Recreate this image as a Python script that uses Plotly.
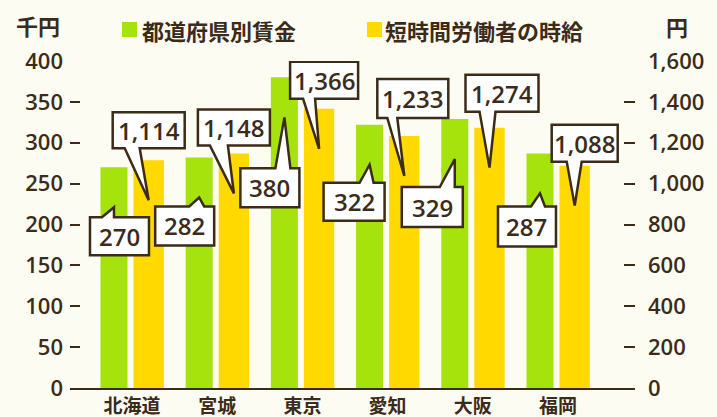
import plotly.graph_objects as go

# ---------------- data ----------------
prefectures = ["北海道", "宮城", "東京", "愛知", "大阪", "福岡"]
wages_thousand_yen = [270, 282, 380, 322, 329, 287]       # 都道府県別賃金 (千円)
hourly_yen = [1114, 1148, 1366, 1233, 1274, 1088]         # 短時間労働者の時給 (円)
series_names = ["都道府県別賃金", "短時間労働者の時給"]
left_ticks = [0, 50, 100, 150, 200, 250, 300, 350, 400]
right_ticks = [0, 200, 400, 600, 800, 1000, 1200, 1400, 1600]
left_unit = "千円"
right_unit = "円"

# ---------------- style / layout ----------------
W, H = 717, 417
ML, MR, MT, MB = 70, 82, 61, 29
PW, PH = W - ML - MR, H - MT - MB
BG = "#fdfcf2"
DARK = "#3b2b18"
GREEN = "#a6e20c"
YELLOW = "#ffd900"
FONT_JP = "Noto Sans CJK JP, Noto Sans, sans-serif"
FONT_NUM = "Open Sans, DejaVu Sans, sans-serif"

X_RANGE = [-0.7277, 5.9038]
G_OFF, G_W = -0.370, 0.317
Y_OFF, Y_W = 0.018, 0.356
TIP_DROP = 40  # px below bar top where the callout tail points

# callout geometry in px relative to tail tip (x right, y down):
# (box left, box right, box top, box bottom, tail base a, tail base b)
green_callouts = [(-24, 35, 10, 48, -12, 0), (-44, 15, 9, 48, -10, 5),
                  (-44, 15, 51, 90, -9, 6), (-46, 15, 18, 56, -10, 4),
                  (-53, 8, 28, 68, -15, 0), (-42, 16, 13, 53, -9, 5)]
yellow_callouts = [(-36, 36, -88, -52, -24, -9), (-36, 36, -84, -48, -24, -6),
                   (-29, 39, -87, -50, -16, -4), (-27, 44, -97, -58, -17, -7),
                   (-24, 49, -93, -56, -10, 6), (-23, 43, -81, -44, -8, 7)]

fig = go.Figure()
xs = list(range(len(prefectures)))
fig.add_trace(go.Bar(x=xs, y=wages_thousand_yen, name=series_names[0],
                     offset=G_OFF, width=G_W, marker=dict(color=GREEN, line=dict(width=0)),
                     yaxis="y", showlegend=False, hoverinfo="y"))
fig.add_trace(go.Bar(x=xs, y=hourly_yen, name=series_names[1],
                     offset=Y_OFF, width=Y_W, marker=dict(color=YELLOW, line=dict(width=0)),
                     yaxis="y2", showlegend=False, hoverinfo="y"))


def bubble_path(pts):
    segs = []
    for k, (px, py) in enumerate(pts):
        segs.append(("M" if k == 0 else "L") + f"{px},{-(py + TIP_DROP)}")
    return " ".join(segs) + " Z"


callout_font = dict(size=24, color=DARK, family=FONT_NUM, weight=600)
shapes = []
annotations = []
for i, (val, geo) in enumerate(zip(wages_thousand_yen, green_callouts)):
    L, R, T, B, a, b = geo
    xc = i + G_OFF + G_W / 2
    pts = [(L, T), (a, T), (0, 0), (b, T), (R, T), (R, B), (L, B)]
    shapes.append(dict(type="path", xref="x", yref="y", xsizemode="pixel", ysizemode="pixel",
                       xanchor=xc, yanchor=val, path=bubble_path(pts), fillcolor="white",
                       line=dict(color=DARK, width=2.5), layer="above"))
    annotations.append(dict(x=xc, y=val, xref="x", yref="y", text=f"{val:,}", showarrow=False,
                            xshift=(L + R) / 2, yshift=-((T + B) / 2 + TIP_DROP),
                            font=callout_font))
for i, (val, geo) in enumerate(zip(hourly_yen, yellow_callouts)):
    L, R, T, B, a, b = geo
    xc = i + Y_OFF + Y_W / 2
    pts = [(L, T), (R, T), (R, B), (b, B), (0, 0), (a, B), (L, B)]
    shapes.append(dict(type="path", xref="x", yref="y2", xsizemode="pixel", ysizemode="pixel",
                       xanchor=xc, yanchor=val, path=bubble_path(pts), fillcolor="white",
                       line=dict(color=DARK, width=2.5), layer="above"))
    annotations.append(dict(x=xc, y=val, xref="x", yref="y2", text=f"{val:,}", showarrow=False,
                            xshift=(L + R) / 2, yshift=-((T + B) / 2 + TIP_DROP),
                            font=callout_font))


def px2paper(px, py):
    return (px - ML) / PW, (MT + PH - py) / PH


jp_font = dict(size=22, color=DARK, family=FONT_JP, weight="bold")
# custom legend + unit labels
for (sx, color, tx, name) in [(122, GREEN, 140, series_names[0]), (367, YELLOW, 383, series_names[1])]:
    x0, y0 = px2paper(sx, 37)
    x1, y1 = px2paper(sx + 15, 22)
    shapes.append(dict(type="rect", xref="paper", yref="paper", x0=x0, x1=x1, y0=y0, y1=y1,
                       fillcolor=color, line=dict(width=0)))
    ax_, ay_ = px2paper(tx, 30)
    annotations.append(dict(x=ax_, y=ay_, xref="paper", yref="paper", text=name, showarrow=False,
                            xanchor="left", yanchor="middle", font=jp_font))
ux, uy = px2paper(38, 25)
annotations.append(dict(x=ux, y=uy, xref="paper", yref="paper", text=left_unit, showarrow=False,
                        xanchor="center", yanchor="middle", font=jp_font))
ux, uy = px2paper(677, 26)
annotations.append(dict(x=ux, y=uy, xref="paper", yref="paper", text=right_unit, showarrow=False,
                        xanchor="center", yanchor="middle", font=jp_font))

tick_font = dict(size=22, color=DARK, family=FONT_NUM, weight=600)
fig.update_layout(
    width=W, height=H, autosize=False, margin=dict(l=ML, r=MR, t=MT, b=MB, pad=0),
    paper_bgcolor=BG, plot_bgcolor=BG, barmode="overlay",
    font=dict(family=FONT_JP, color=DARK),
    xaxis=dict(range=X_RANGE, tickvals=xs, ticktext=prefectures, showgrid=False, zeroline=False,
               showline=True, linecolor=DARK, linewidth=2, ticks="", ticklabelstandoff=0,
               automargin=False,
               tickfont=dict(size=19, color=DARK, family=FONT_JP, weight="bold"), fixedrange=True),
    yaxis=dict(range=[0, 400], tickvals=left_ticks, ticktext=[str(v) for v in left_ticks],
               showgrid=False, zeroline=False, showline=False, ticks="inside", ticklen=10,
               tickwidth=2, tickcolor=DARK, tickfont=tick_font,
               ticklabelstandoff=6, automargin=False, fixedrange=True),
    yaxis2=dict(range=[0, 1600], tickvals=right_ticks, ticktext=[f"{v:,}" for v in right_ticks],
                overlaying="y", side="right", showgrid=False, zeroline=False, showline=False,
                ticks="inside", ticklen=11, tickwidth=2, tickcolor=DARK,
                tickfont=tick_font, ticklabelstandoff=12,
                automargin=False, fixedrange=True),
    shapes=shapes, annotations=annotations,
)

post = ("document.documentElement.style.margin='0';document.body.style.margin='0';"
        "document.body.style.padding='0';document.body.style.overflow='hidden';"
        "var gd=document.getElementById('{plot_id}');gd.style.width='717px';gd.style.height='417px';"
        "Plotly.relayout(gd,{width:717,height:417});")
fig.write_html("out.html", config={"responsive": False, "displayModeBar": False}, post_script=post)
